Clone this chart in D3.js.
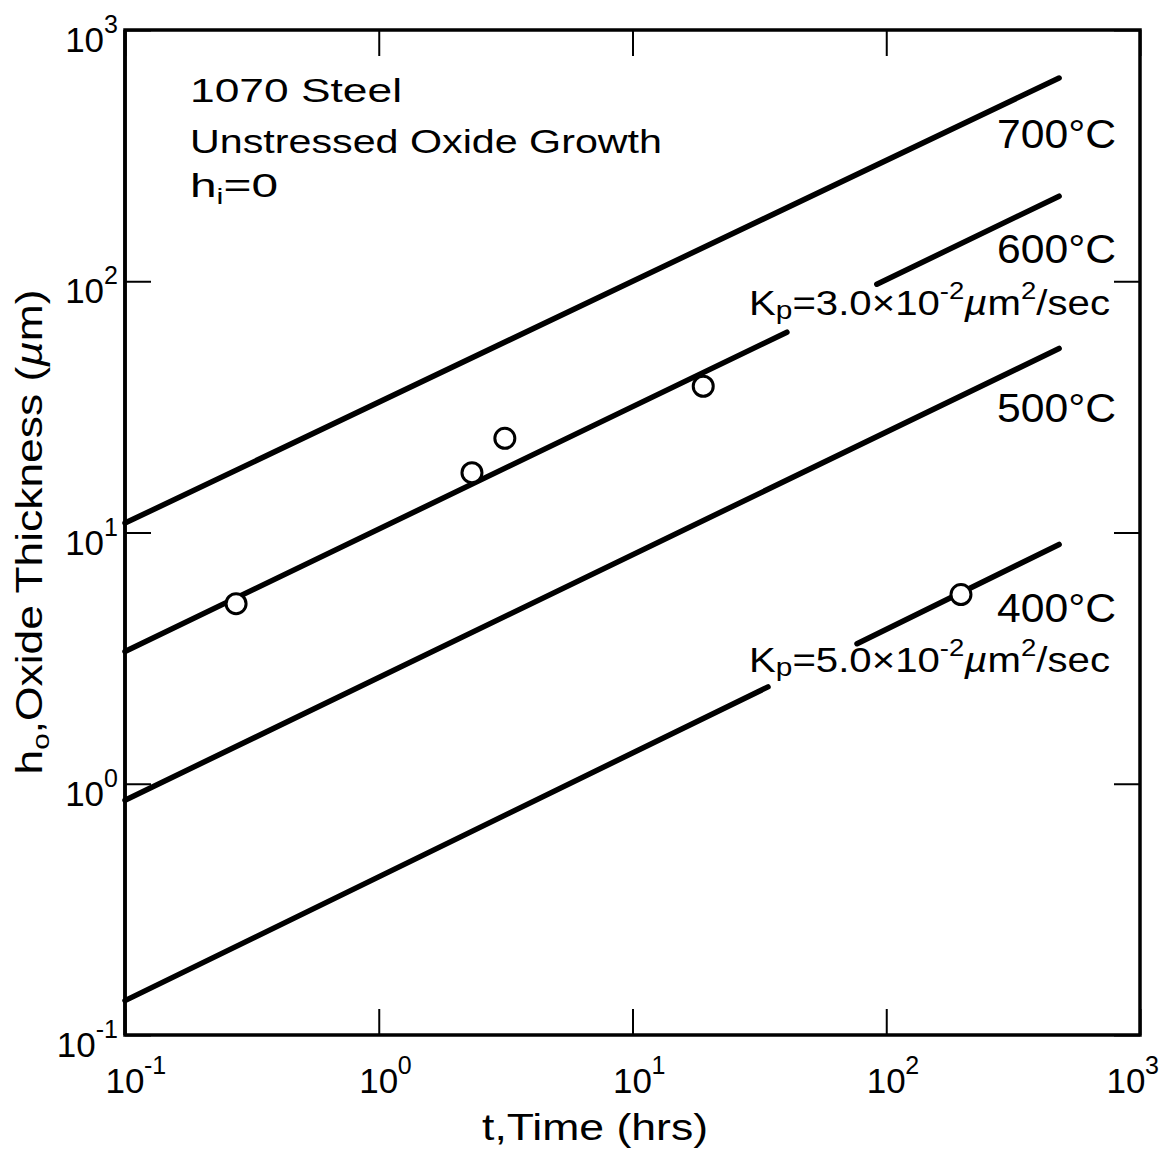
<!DOCTYPE html>
<html>
<head>
<meta charset="utf-8">
<script src="https://cdn.jsdelivr.net/npm/d3@7/dist/d3.min.js"></script>
<style>
  html, body { margin: 0; padding: 0; background: #fff; }
  svg text { font-family: "Liberation Sans", Arial, sans-serif; fill: #000; }
</style>
</head>
<body>
<svg id="chart" width="1160" height="1150"></svg>
<script>
// ---- data ----
const xTicks = [0.1, 1, 10, 100, 1000];
const xTickExp = ["-1", "0", "1", "2", "3"];
const yTicks = [0.1, 1, 10, 100, 1000];
const yTickExp = ["-1", "0", "1", "2", "3"];

const tempLabels = ["700°C", "600°C", "500°C", "400°C"];
// line segments for each temperature: [t, h] end points (hrs, µm)
const seg700 = [[[0.1, 10.9], [480, 644]]];
const seg600 = [[[0.1, 3.36], [40.6, 62.7]], [[91.8, 97.3], [480, 218]]];
const seg500 = [[[0.1, 0.86], [480, 54]]];
const seg400 = [[[0.1, 0.137], [34.2, 2.43]], [[76.7, 3.61], [480, 8.96]]];
const segments = [seg700, seg600, seg500, seg400];

// measured points
const pointT = [0.274, 2.33, 3.14, 19.0, 197];
const pointH = [5.21, 17.3, 23.7, 38.2, 5.66];

const kpLabels = ["3.0", "5.0"];

// ---- layout ----
const svg = d3.select("#chart");
const L = 125, R = 1140, T = 30, B = 1035;
const x = d3.scaleLog().domain([0.1, 1000]).range([L, R]);
const y = d3.scaleLog().domain([0.1, 1000]).range([B, T]);

// inward ticks on all four sides
const tickLen = 26;
const axG = svg.append("g");
axG.append("g").attr("transform", `translate(0,${B})`)
  .call(d3.axisBottom(x).tickValues(xTicks).tickSize(-tickLen).tickFormat(""));
axG.append("g").attr("transform", `translate(0,${T})`)
  .call(d3.axisTop(x).tickValues(xTicks).tickSize(-tickLen).tickFormat(""));
axG.append("g").attr("transform", `translate(${L},0)`)
  .call(d3.axisLeft(y).tickValues(yTicks).tickSize(-tickLen).tickFormat(""));
axG.append("g").attr("transform", `translate(${R},0)`)
  .call(d3.axisRight(y).tickValues(yTicks).tickSize(-tickLen).tickFormat(""));
axG.selectAll(".domain").remove();
axG.selectAll(".tick line").attr("stroke", "#000").attr("stroke-width", 2);

// frame
svg.append("rect").attr("x", L).attr("y", T).attr("width", R - L).attr("height", B - T)
  .attr("fill", "none").attr("stroke", "#000").attr("stroke-width", 3.5);

// x tick labels
xTicks.forEach((v, i) => {
  const shift = i === xTicks.length - 1 ? -14 : 0;
  svg.append("text").attr("x", x(v) + shift).attr("y", B + 58).attr("text-anchor", "middle")
    .attr("font-size", 35).text("10");
  svg.append("text").attr("x", x(v) + shift + 19).attr("y", B + 39).attr("text-anchor", "start")
    .attr("font-size", 25).text(xTickExp[i]);
});
// y tick labels
yTicks.forEach((v, i) => {
  const t = svg.append("text").attr("x", 118).attr("y", y(v) + 22).attr("text-anchor", "end");
  t.append("tspan").attr("font-size", 35).text("10");
  t.append("tspan").attr("font-size", 25).attr("dy", -19).text(yTickExp[i]);
});

// lines
const line = d3.line().x(d => x(d[0])).y(d => y(d[1]));
segments.forEach(segs => {
  segs.forEach(s => {
    svg.append("path").attr("d", line(s)).attr("fill", "none")
      .attr("stroke", "#000").attr("stroke-width", 5.5).attr("stroke-linecap", "round");
  });
});
// re-draw frame left edge over line starts
svg.append("line").attr("x1", L).attr("x2", L).attr("y1", T).attr("y2", B)
  .attr("stroke", "#000").attr("stroke-width", 3.5);

// points
svg.selectAll("circle.pt").data(pointT.map((t, i) => [t, pointH[i]])).enter()
  .append("circle").attr("class", "pt")
  .attr("cx", d => x(d[0])).attr("cy", d => y(d[1])).attr("r", 10)
  .attr("fill", "#fff").attr("stroke", "#000").attr("stroke-width", 3);

// temperature labels
const tempBaselines = [148, 263, 422, 622];
tempLabels.forEach((s, i) => {
  svg.append("text").attr("x", 1116).attr("y", tempBaselines[i]).attr("text-anchor", "end")
    .attr("font-size", 40).attr("textLength", 119).attr("lengthAdjust", "spacingAndGlyphs").text(s);
});

// Kp labels
const kpBaselines = [315, 672];
kpLabels.forEach((k, i) => {
  const t = svg.append("text").attr("x", 749).attr("y", kpBaselines[i])
    .attr("font-size", 35).attr("textLength", 361).attr("lengthAdjust", "spacingAndGlyphs");
  t.append("tspan").text("K");
  t.append("tspan").attr("font-size", 26).attr("dy", 4).text("p");
  t.append("tspan").attr("dy", -4).text("=" + k + "×10");
  t.append("tspan").attr("font-size", 24).attr("dy", -16).text("-2");
  t.append("tspan").attr("dy", 16).attr("font-style", "italic").text("µ");
  t.append("tspan").text("m");
  t.append("tspan").attr("font-size", 24).attr("dy", -16).text("2");
  t.append("tspan").attr("dy", 16).text("/sec");
});

// annotation block
svg.append("text").attr("x", 190).attr("y", 102).attr("font-size", 34)
  .attr("textLength", 212).attr("lengthAdjust", "spacingAndGlyphs").text("1070 Steel");
svg.append("text").attr("x", 190).attr("y", 153).attr("font-size", 34)
  .attr("textLength", 472).attr("lengthAdjust", "spacingAndGlyphs").text("Unstressed Oxide Growth");
const hi = svg.append("text").attr("x", 190).attr("y", 197).attr("font-size", 34)
  .attr("textLength", 88).attr("lengthAdjust", "spacingAndGlyphs");
hi.append("tspan").text("h");
hi.append("tspan").attr("font-size", 22).attr("dy", 7).text("i");
hi.append("tspan").attr("dy", -7).text("=0");

// axis titles
svg.append("text").attr("x", 595).attr("y", 1140).attr("text-anchor", "middle")
  .attr("font-size", 36).attr("textLength", 226).attr("lengthAdjust", "spacingAndGlyphs")
  .text("t,Time (hrs)");
const yt = svg.append("text").attr("transform", "translate(42,532) rotate(-90)")
  .attr("text-anchor", "middle").attr("font-size", 36)
  .attr("textLength", 485).attr("lengthAdjust", "spacingAndGlyphs");
yt.append("tspan").text("h");
yt.append("tspan").attr("font-size", 24).attr("dy", 7).text("o");
yt.append("tspan").attr("dy", -7).text(",Oxide Thickness (");
yt.append("tspan").attr("font-style", "italic").text("µ");
yt.append("tspan").text("m)");
</script>
</body>
</html>
